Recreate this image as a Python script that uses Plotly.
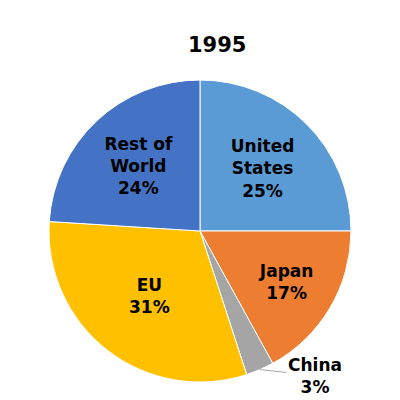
import math
import plotly.graph_objects as go

regions = ["United<br>States", "Japan", "China", "EU", "Rest of<br>World"]
shares = [25, 17, 3, 31, 24]
colors = ["#5B9BD5", "#ED7D31", "#A5A5A5", "#FFC000", "#4472C4"]
positions = ["inside", "inside", "none", "inside", "inside"]

dom_x = [0.1025, 0.8575]
dom_y = [0.065, 0.82]

fig = go.Figure()
fig.add_trace(go.Pie(
    labels=regions, values=shares, sort=False, direction="clockwise",
    rotation=0, marker=dict(colors=colors, line=dict(color="white", width=1)),
    texttemplate="%{label}<br>%{percent:.0%}", textposition=positions,
    insidetextorientation="horizontal",
    textfont=dict(family="DejaVu Sans", size=17, color="black", weight="bold"),
    domain=dict(x=dom_x, y=dom_y),
    showlegend=False, hoverinfo="label+percent",
))

# China label sits outside with a leader line from the middle of its slice
i = 2
total = sum(shares)
mid = (sum(shares[:i]) + shares[i] / 2) / total * 2 * math.pi
r = (dom_y[1] - dom_y[0]) / 2
cx = sum(dom_x) / 2
cy = sum(dom_y) / 2
tip_x = cx + r * math.sin(mid)
tip_y = cy + r * math.cos(mid)
china_text = "<b>%s<br>%d%%</b>" % (regions[i], round(shares[i] / total * 100))

fig.update_layout(
    width=400, height=400,
    margin=dict(l=0, r=0, t=0, b=0),
    paper_bgcolor="white",
    annotations=[
        dict(text="<b>1995</b>", x=0.5225, y=0.9075, xref="paper", yref="paper",
             xanchor="center", yanchor="middle", showarrow=False,
             font=dict(family="DejaVu Sans", size=21, color="black")),
        dict(text=china_text, x=tip_x, y=tip_y, xref="paper", yref="paper",
             showarrow=True, arrowhead=0, arrowwidth=1, arrowcolor="#A6A6A6",
             ax=55, ay=6, standoff=0,
             font=dict(family="DejaVu Sans", size=17, color="black")),
    ],
)

fig.write_html("out.html")
